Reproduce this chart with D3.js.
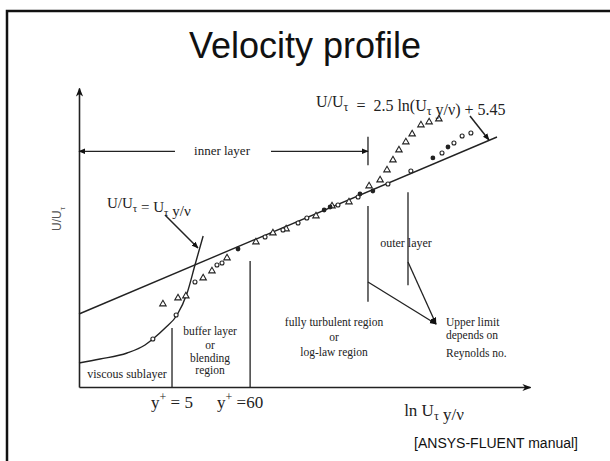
<!DOCTYPE html>
<html>
<head>
<meta charset="utf-8">
<script src="https://cdn.jsdelivr.net/npm/d3@7"></script>
<style>
    body { margin: 0; background: #fff; }
    svg { display: block; }
    text { white-space: pre; }
</style>
</head>
<body>
<div id="chart"></div>
<script>
// x = ln(y+), y = U+ (schematic figure units)
var logLaw = [[-1.35, 14.65], [11.95, 50.17]];
var viscousCurve = [[-1.35, 4.82], [-0.68, 5.62], [0.18, 6.82], [0.75, 8.43], [1.0, 9.63],
    [1.39, 11.84], [1.77, 14.45], [2.09, 18.86], [2.34, 24.48], [2.6, 30.3]];
var triangles = [[1.32, 16.66], [1.8, 17.86], [2.05, 18.26], [2.6, 21.87], [2.88, 23.28],
    [3.36, 25.89], [4.28, 29.1], [4.82, 30.9], [5.24, 31.71], [6.19, 34.32], [6.7, 36.32],
    [7.24, 37.13], [7.88, 40.34], [8.23, 41.54], [8.45, 43.55], [8.64, 45.55], [8.83, 47.56],
    [9.05, 49.17], [9.25, 50.77], [9.53, 52.58], [9.79, 53.18], [10.1, 53.78]];
var circles = [[1.0, 9.63], [1.74, 14.45], [2.34, 21.07], [3.04, 24.48], [3.2, 24.88],
    [4.57, 30.1], [5.14, 31.51], [5.62, 32.91], [5.9, 33.91], [6.89, 36.52], [7.53, 38.13],
    [8.48, 40.74], [9.21, 43.35], [10.2, 46.96], [10.58, 48.97], [10.84, 50.37], [11.12, 50.97]];
var dots = [[3.71, 27.69], [6.45, 35.52], [6.64, 36.12], [7.59, 38.73], [8.0, 39.33],
    [9.91, 45.96], [10.39, 48.16]];
var yPlusMarks = [5, 60];

var width = 610, height = 461;

var svg = d3.select("#chart")
    .append("svg")
    .attr("width", width)
    .attr("height", height);

var defs = svg.append("defs");
defs.append("marker")
    .attr("id", "arrow")
    .attr("viewBox", "0 0 10 10")
    .attr("refX", 9).attr("refY", 5)
    .attr("markerWidth", 7).attr("markerHeight", 7)
    .attr("markerUnits", "userSpaceOnUse")
    .attr("orient", "auto")
    .append("path")
    .attr("d", "M0,1L10,5L0,9Z")
    .style("fill", "#111");
defs.append("marker")
    .attr("id", "axisArrow")
    .attr("viewBox", "0 0 10 10")
    .attr("refX", 9).attr("refY", 5)
    .attr("markerWidth", 9).attr("markerHeight", 9)
    .attr("markerUnits", "userSpaceOnUse")
    .attr("orient", "auto")
    .append("path")
    .attr("d", "M0,1L10,5L0,9L3,5Z")
    .style("fill", "#111");

// slide frame
svg.append("rect")
    .attr("x", 7).attr("y", 11)
    .attr("width", 700).attr("height", 500)
    .style("fill", "none")
    .style("stroke", "#111")
    .style("stroke-width", 2.5);

svg.append("text")
    .attr("x", 305).attr("y", 58)
    .attr("text-anchor", "middle")
    .style("font-family", "Liberation Sans, Arial, sans-serif")
    .style("font-size", "36px")
    .style("fill", "#111")
    .text("Velocity profile");

svg.append("text")
    .attr("x", 578).attr("y", 448)
    .attr("text-anchor", "end")
    .style("font-family", "Liberation Sans, Arial, sans-serif")
    .style("font-size", "14px")
    .style("fill", "#111")
    .text("[ANSYS-FLUENT manual]");

var x = d3.scaleLinear().domain([-1.35, 13.0]).range([79, 530]);
var y = d3.scaleLinear().domain([0, 60]).range([387, 88]);

// axes (no ticks, arrow heads only)
var xAxis = svg.append("g")
    .attr("transform", "translate(0," + y(0) + ")")
    .call(d3.axisBottom(x).tickValues([]).tickSizeOuter(0));
var yAxis = svg.append("g")
    .attr("transform", "translate(" + x(-1.35) + ",0)")
    .call(d3.axisLeft(y).tickValues([]).tickSizeOuter(0));
[xAxis, yAxis].forEach(function(a) {
    a.select(".domain")
        .style("stroke", "#222")
        .style("stroke-width", 1.6)
        .attr("marker-end", "url(#axisArrow)");
});

var serif = "Liberation Serif, Times New Roman, serif";
var ink = "#222";

function line(p, opts) {
    var l = svg.append("line")
        .attr("x1", x(p[0][0])).attr("y1", y(p[0][1]))
        .attr("x2", x(p[1][0])).attr("y2", y(p[1][1]))
        .style("stroke", ink)
        .style("stroke-width", (opts && opts.w) || 1.3);
    if (opts && opts.arrow) l.attr("marker-end", "url(#arrow)");
    return l;
}

// region boundaries
yPlusMarks.forEach(function(v, i) {
    var top = i === 0 ? 11.84 : 25.3;
    line([[Math.log(v), 0], [Math.log(v), top]]);
});
line([[7.845, 17.1], [7.845, 36.3]]);
line([[7.845, 44.5], [7.845, 50.2]]);
line([[9.118, 20.4], [9.118, 39.1]]);

// inner layer span
line([[1.704, 47.3], [-1.35, 47.3]], {arrow: true});
line([[4.759, 47.3], [7.845, 47.3]], {arrow: true});

// leaders
line([[7.845, 21.07], [10.01, 12.64]], {arrow: true});
line([[9.118, 25.09], [10.01, 12.64]], {arrow: true});
line([[11.09, 54.38], [11.695, 49.57]], {arrow: true, w: 1.5});
line([[1.386, 34.52], [2.436, 27.89]], {arrow: true, w: 1.5});

// law curves
var path = d3.line()
    .x(function(d) { return x(d[0]); })
    .y(function(d) { return y(d[1]); });
svg.append("path")
    .attr("d", path(logLaw))
    .style("fill", "none").style("stroke", ink).style("stroke-width", 1.4);
svg.append("path")
    .attr("d", path.curve(d3.curveMonotoneX)(viscousCurve))
    .style("fill", "none").style("stroke", ink).style("stroke-width", 1.4);

// measurements
svg.selectAll(".tri")
    .data(triangles)
    .enter().append("path")
    .attr("class", "tri")
    .attr("transform", function(d) { return "translate(" + x(d[0]) + "," + y(d[1]) + ")"; })
    .attr("d", d3.symbol().type(d3.symbolTriangle).size(18))
    .style("fill", "#fff").style("stroke", ink).style("stroke-width", 1.1);

svg.selectAll(".circ")
    .data(circles)
    .enter().append("circle")
    .attr("class", "circ")
    .attr("cx", function(d) { return x(d[0]); })
    .attr("cy", function(d) { return y(d[1]); })
    .attr("r", 2)
    .style("fill", "#fff").style("stroke", ink).style("stroke-width", 1.1);

svg.selectAll(".dot")
    .data(dots)
    .enter().append("circle")
    .attr("class", "dot")
    .attr("cx", function(d) { return x(d[0]); })
    .attr("cy", function(d) { return y(d[1]); })
    .attr("r", 2.4)
    .style("fill", ink);

// labels
function label(px, py, size, anchor) {
    return svg.append("text")
        .attr("x", px).attr("y", py)
        .attr("text-anchor", anchor || "middle")
        .style("font-family", serif)
        .style("font-size", size + "px")
        .style("fill", ink);
}
function sub(t, s, size) {
    t.append("tspan").attr("dy", 4).style("font-size", size + "px").text(s);
    t.append("tspan").attr("dy", -4).text("");
}

var eq1 = label(316, 107, 16, "start");
eq1.append("tspan").text("U/U");
sub(eq1, "τ", 12);
eq1.append("tspan").text("  =  2.5 ln(U");
sub(eq1, "τ", 12);
eq1.append("tspan").text(" y/ν) + 5.45");

var eq2 = label(107, 208, 15, "start");
eq2.append("tspan").text("U/U");
sub(eq2, "τ", 11);
eq2.append("tspan").text(" = U");
sub(eq2, "τ", 11);
eq2.append("tspan").text(" y/ν");

label(222, 155, 13).text("inner layer");
label(406, 247, 12).text("outer layer");
label(127, 378, 12).text("viscous sublayer");
label(210, 335, 11.5).text("buffer layer");
label(210, 349, 11.5).text("or");
label(210, 362, 11.5).text("blending");
label(210, 374, 11.5).text("region");
label(334, 326, 11.5).text("fully turbulent region");
label(334, 341, 11.5).text("or");
label(334, 356, 11.5).text("log-law region");
label(446, 326, 11.5, "start").text("Upper limit");
label(446, 339, 11.5, "start").text("depends on");
label(446, 357, 11.5, "start").text("Reynolds no.");

yPlusMarks.forEach(function(v, i) {
    var t = label(x(Math.log(v)) - (i === 0 ? 0 : 10), 408, 17);
    t.append("tspan").text("y");
    t.append("tspan").attr("dy", -7).style("font-size", "12px").text("+");
    t.append("tspan").attr("dy", 7).text(i === 0 ? " = " + v : " =" + v);
});

var xl = label(434, 416, 17);
xl.append("tspan").text("ln U");
sub(xl, "τ", 12);
xl.append("tspan").text(" y/ν");

var yl = svg.append("text")
    .attr("transform", "translate(61,219) rotate(-90)")
    .attr("text-anchor", "middle")
    .style("font-family", "Liberation Sans, Arial, sans-serif")
    .style("font-size", "12px")
    .style("fill", "#555");
yl.append("tspan").text("U/U");
yl.append("tspan").attr("dy", 4).style("font-size", "8px").text("τ");
</script>
</body>
</html>
